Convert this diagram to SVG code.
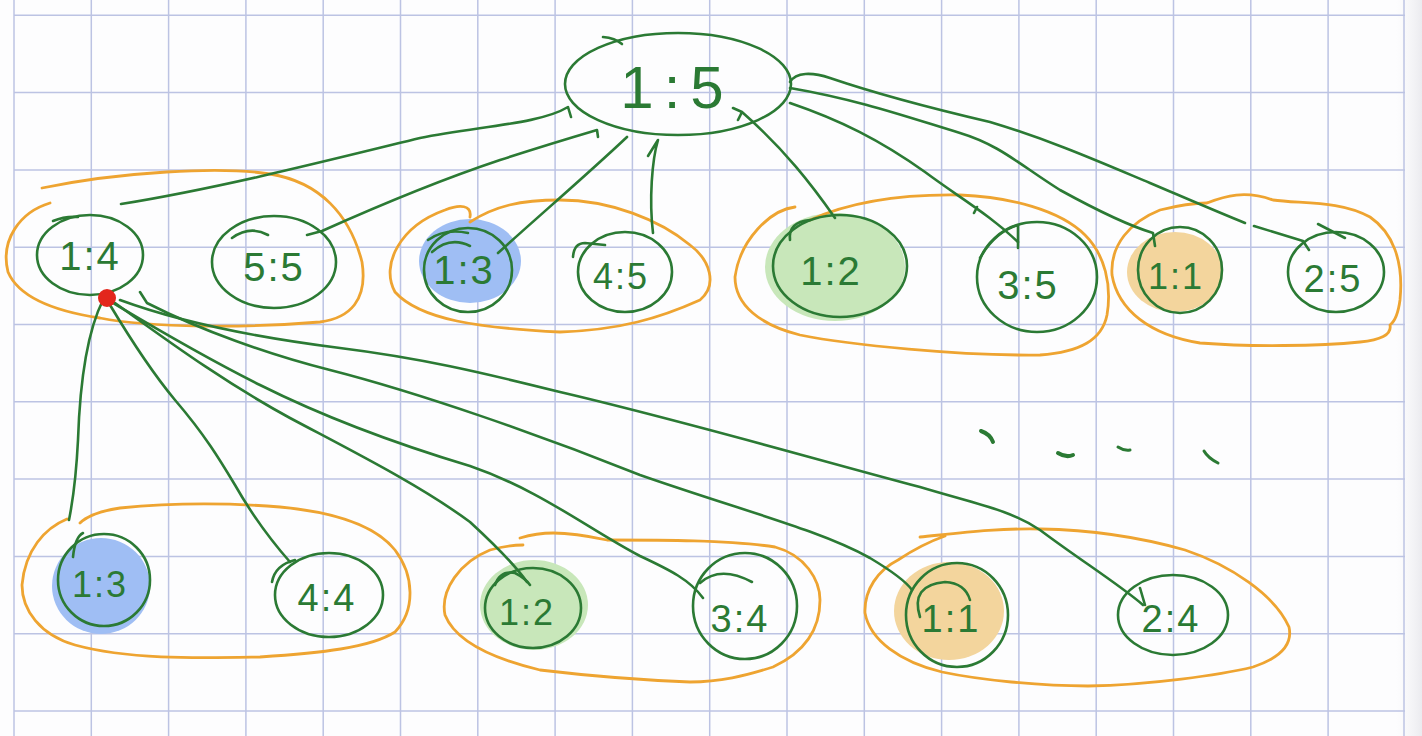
<svg xmlns="http://www.w3.org/2000/svg" width="1422" height="736" viewBox="0 0 1422 736">
<defs>
<style>
.grid line{stroke:#bcc3e3;stroke-width:1.5}
.g{fill:none;stroke:#2b7a34;stroke-width:2.6;stroke-linecap:round;stroke-linejoin:round}
.o{fill:none;stroke:#eea431;stroke-width:2.8;stroke-linecap:round;stroke-linejoin:round}
.t{font-family:"Liberation Sans",Arial,sans-serif;font-size:40px;fill:#2b7a34;text-anchor:middle;letter-spacing:2px}
.fb{fill:#9fbef4}
.fg{fill:#c8e7ba}
.fo{fill:#f3d59d}
</style>
<linearGradient id="edge" x1="0" y1="0" x2="1" y2="0">
<stop offset="0" stop-color="#f4f4f7" stop-opacity="0"/>
<stop offset="1" stop-color="#ebebef"/>
</linearGradient>
</defs>
<rect width="1422" height="736" fill="#fdfdfe"/>
<rect x="1396" y="0" width="26" height="736" fill="url(#edge)"/>
<g class="grid">
<line x1="14" y1="0" x2="14" y2="736"/><line x1="91.3" y1="0" x2="91.3" y2="736"/><line x1="168.6" y1="0" x2="168.6" y2="736"/><line x1="245.9" y1="0" x2="245.9" y2="736"/><line x1="323.2" y1="0" x2="323.2" y2="736"/><line x1="400.5" y1="0" x2="400.5" y2="736"/><line x1="477.8" y1="0" x2="477.8" y2="736"/><line x1="555.1" y1="0" x2="555.1" y2="736"/><line x1="632.4" y1="0" x2="632.4" y2="736"/><line x1="709.7" y1="0" x2="709.7" y2="736"/><line x1="787" y1="0" x2="787" y2="736"/><line x1="864.3" y1="0" x2="864.3" y2="736"/><line x1="941.6" y1="0" x2="941.6" y2="736"/><line x1="1018.9" y1="0" x2="1018.9" y2="736"/><line x1="1096.2" y1="0" x2="1096.2" y2="736"/><line x1="1173.5" y1="0" x2="1173.5" y2="736"/><line x1="1250.8" y1="0" x2="1250.8" y2="736"/><line x1="1328.1" y1="0" x2="1328.1" y2="736"/><line x1="1404" y1="0" x2="1404" y2="736"/>
<line x1="14" y1="15.3" x2="1405" y2="15.3"/><line x1="14" y1="92.6" x2="1405" y2="92.6"/><line x1="14" y1="169.9" x2="1405" y2="169.9"/><line x1="14" y1="247.2" x2="1405" y2="247.2"/><line x1="14" y1="324.5" x2="1405" y2="324.5"/><line x1="14" y1="401.8" x2="1405" y2="401.8"/><line x1="14" y1="479.1" x2="1405" y2="479.1"/><line x1="14" y1="556.4" x2="1405" y2="556.4"/><line x1="14" y1="633.7" x2="1405" y2="633.7"/><line x1="14" y1="711" x2="1405" y2="711"/>
</g>
<g id="fills">
<ellipse class="fb" cx="470" cy="261" rx="51" ry="42"/>
<ellipse class="fg" cx="835" cy="267" rx="70" ry="54"/>
<ellipse class="fo" cx="1175" cy="272" rx="48" ry="40"/>
<ellipse class="fb" cx="101" cy="586" rx="49" ry="48"/>
<ellipse class="fg" cx="534" cy="605" rx="54" ry="45"/>
<ellipse class="fo" cx="949" cy="611" rx="55" ry="49"/>
</g>
<g id="groups">
<path id="grp-1" class="o" d="M42,188 C 120,172 220,166 270,174 C 320,182 350,215 362,262 C 368,300 350,318 320,322 C 250,328 150,328 100,318 C 60,312 20,300 8,272 C 0,240 20,212 50,203"/>
<path id="grp-2" class="o" d="M470,217 C 472,205 460,204 445,210 C 400,226 380,265 395,292 C 420,320 480,328 560,332 C 620,330 660,318 700,300 C 718,285 710,260 690,245 C 660,220 610,200 560,200 C 520,200 495,206 470,222"/>
<path id="grp-3" class="o" d="M795,207 C 770,210 740,240 735,277 C 735,305 760,325 800,335 C 850,345 960,356 1040,355 C 1080,352 1102,340 1107,315 C 1112,285 1105,255 1085,235 C 1060,210 1010,197 960,195 C 900,194 850,202 810,220"/>
<path id="grp-4" class="o" d="M1207,203 C 1225,196 1245,190 1273,200 C 1300,204 1340,200 1370,217 C 1392,232 1404,260 1400,300 C 1398,315 1394,322 1390,325 C 1392,335 1380,340 1360,342 C 1320,346 1250,347 1200,343 C 1150,335 1118,310 1112,275 C 1110,245 1130,222 1160,210 C 1180,205 1195,203 1207,203"/>
<path id="grp-5" class="o" d="M67,519 C 45,528 25,550 22,585 C 22,610 40,635 75,645 C 130,660 200,658 260,657 C 320,653 370,648 395,632 C 416,610 414,575 395,550 C 375,525 335,512 280,507 C 230,503 170,503 120,508 C 100,511 88,515 80,523"/>
<path id="grp-6" class="o" d="M520,538 C 540,532 560,530 607,540 C 660,540 730,540 775,547 C 805,555 820,580 820,600 C 820,630 805,652 773,667 C 745,676 720,682 690,682 C 640,680 590,676 540,670 C 490,658 455,640 445,615 C 440,590 460,562 490,550 C 505,546 515,545 523,545"/>
<path id="grp-7" class="o" d="M920,537 C 960,533 1000,528 1040,529 C 1100,530 1150,540 1185,550 C 1230,565 1275,595 1289,627 C 1293,645 1280,658 1253,667 C 1220,675 1150,685 1088,686 C 1040,686 980,680 942,672 C 900,662 870,640 865,613 C 864,590 878,570 898,560 C 910,552 925,543 945,536"/>
</g>
<g id="connectors">
<path class="g" d="M121,204 C 220,188 330,160 420,138 C 480,126 540,124 568,107 L 571,117"/>
<path class="g" d="M307,235 L 322,231 C 380,205 440,180 500,160 C 540,147 570,138 597,130 L 598,137"/>
<path class="g" d="M498,253 C 540,215 590,172 627,137"/>
<path class="g" d="M653,233 C 649,200 652,160 658,140 L 648,156"/>
<path class="g" d="M835,218 C 812,185 785,150 742,112 L 733,108 M742,112 L 738,120"/>
<path class="g" d="M790,103 C 840,120 880,140 925,172 C 960,198 990,215 1018,242 M977,207 L 974,213"/>
<path class="g" d="M790,88 C 860,100 910,118 960,133 C 1000,145 1020,165 1060,190 C 1100,212 1130,226 1153,233 L 1155,246"/>
<path class="g" d="M790,82 C 796,72 812,72 830,78 C 880,95 930,108 990,122 C 1050,140 1100,162 1150,183 C 1190,200 1220,213 1245,223 M1254,226 L 1303,241 L 1309,250"/>
<path class="g" d="M103,300 C 88,330 80,380 78,440 C 76,480 72,505 69,520"/>
<path class="g" d="M110,305 C 125,330 150,370 175,400 C 205,435 220,460 235,485 C 255,520 275,545 290,562"/>
<path class="g" d="M115,303 C 160,335 220,380 290,418 C 350,450 420,485 470,522 C 495,545 515,565 527,582"/>
<path class="g" d="M113,303 C 150,325 200,355 260,385 C 330,420 400,445 470,466 C 540,490 590,530 640,556 C 670,570 690,580 703,598"/>
<path class="g" d="M140,292 L 147,303 C 200,330 270,355 330,370 C 420,393 540,435 640,475 C 740,510 820,530 870,558 C 890,570 905,580 912,590"/>
<path class="g" d="M120,300 C 180,322 260,338 340,348 C 420,358 480,372 560,392 C 680,420 800,455 920,487 C 980,505 1010,510 1040,530 C 1080,560 1120,585 1143,605"/>
</g>
<g id="node-1-5"><ellipse class="g" cx="678" cy="84" rx="113" ry="51"/><path class="g" d="M603,37 Q 615,38 622,44"/><text class="t" x="677" y="108" style="font-size:60px;letter-spacing:10px">1:5</text></g>
<g id="node-1-4"><ellipse class="g" cx="90" cy="255" rx="53" ry="40"/><path class="g" d="M53,221 Q 65,216 78,217"/><text class="t" x="90" y="270">1:4</text></g>
<g id="node-5-5"><ellipse class="g" cx="274" cy="262" rx="62" ry="46"/><path class="g" d="M232,238 Q 250,225 268,235"/><text class="t" x="274" y="281">5:5</text></g>
<g id="node-1-3a"><ellipse class="g" cx="468" cy="270" rx="44" ry="42"/><path class="g" d="M428,240 Q 445,228 468,233 M432,252 Q 450,236 470,246"/><text class="t" x="464" y="284">1:3</text></g>
<g id="node-4-5"><ellipse class="g" cx="625" cy="272" rx="47" ry="40"/><path class="g" d="M573,257 Q 574,243 585,243 L 605,245"/><text class="t" x="621" y="289" style="font-size:36px">4:5</text></g>
<g id="node-1-2a"><ellipse class="g" cx="840" cy="266" rx="67" ry="51"/><path class="g" d="M790,240 Q 788,222 810,220"/><text class="t" x="831" y="285">1:2</text></g>
<g id="node-3-5"><ellipse class="g" cx="1037" cy="277" rx="60" ry="55"/><path class="g" d="M980,258 Q 995,232 1018,225 L 1018,248"/><text class="t" x="1028" y="299">3:5</text></g>
<g id="node-1-1a"><ellipse class="g" cx="1180" cy="270" rx="42" ry="43"/><text class="t" x="1176" y="289" style="font-size:36px">1:1</text></g>
<g id="node-2-5"><ellipse class="g" cx="1336" cy="272" rx="48" ry="40"/><path class="g" d="M1318,224 L 1345,238"/><text class="t" x="1333" y="292" style="font-size:38px">2:5</text></g>
<g id="node-1-3b"><ellipse class="g" cx="104" cy="580" rx="46" ry="46"/><path class="g" d="M73,557 Q 75,537 83,533"/><text class="t" x="100" y="597" style="font-size:36px">1:3</text></g>
<g id="node-4-4"><ellipse class="g" cx="329" cy="595" rx="54" ry="42"/><path class="g" d="M272,582 Q 275,565 295,560"/><text class="t" x="327" y="611" style="font-size:38px">4:4</text></g>
<g id="node-1-2b"><ellipse class="g" cx="533" cy="608" rx="48" ry="40"/><path class="g" d="M495,585 Q 500,570 515,573 Q 525,578 530,585"/><text class="t" x="527" y="625" style="font-size:36px">1:2</text></g>
<g id="node-3-4"><ellipse class="g" cx="745" cy="606" rx="52" ry="53"/><path class="g" d="M700,583 Q 720,565 752,582"/><text class="t" x="740" y="632" style="font-size:38px">3:4</text></g>
<g id="node-1-1b"><ellipse class="g" cx="957" cy="615" rx="51" ry="52"/><path class="g" d="M920,617 Q 910,585 945,582 Q 965,583 970,600"/><text class="t" x="951" y="632" style="font-size:38px">1:1</text></g>
<g id="node-2-4"><ellipse class="g" cx="1173" cy="615" rx="55" ry="40"/><path class="g" d="M1140,588 L 1145,605"/><text class="t" x="1171" y="632" style="font-size:38px">2:4</text></g>
<g id="marks">
<circle cx="107" cy="298" r="9" fill="#e3261c"/>
<path class="g" style="stroke-width:4" d="M981,431 Q 990,434 993,442"/>
<path class="g" style="stroke-width:4" d="M1058,453 Q 1066,458 1073,455"/>
<path class="g" style="stroke-width:3" d="M1118,447 Q 1124,451 1130,450"/>
<path class="g" style="stroke-width:3" d="M1204,451 Q 1208,458 1218,463"/>
</g>
</svg>
